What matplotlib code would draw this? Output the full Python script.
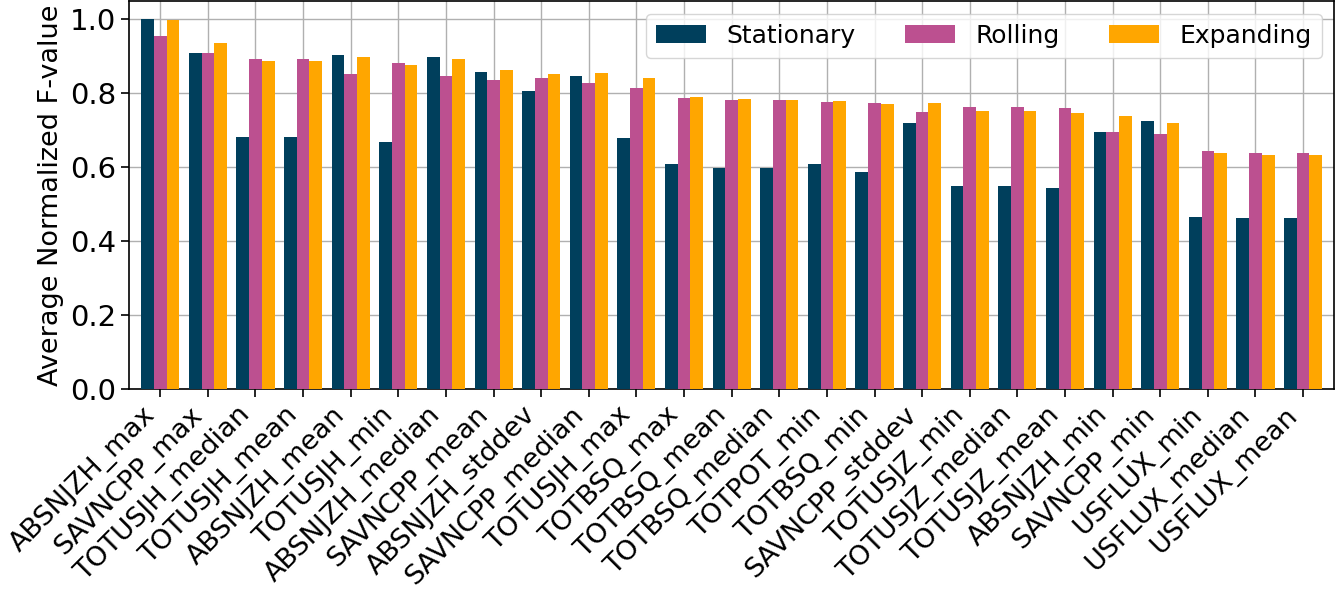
import numpy as np
import matplotlib
matplotlib.use("Agg")
import matplotlib.pyplot as plt

features = [
    "ABSNJZH_max", "SAVNCPP_max", "TOTUSJH_median", "TOTUSJH_mean", "ABSNJZH_mean",
    "TOTUSJH_min", "ABSNJZH_median", "SAVNCPP_mean", "ABSNJZH_stddev", "SAVNCPP_median",
    "TOTUSJH_max", "TOTBSQ_max", "TOTBSQ_mean", "TOTBSQ_median", "TOTPOT_min",
    "TOTBSQ_min", "SAVNCPP_stddev", "TOTUSJZ_min", "TOTUSJZ_median", "TOTUSJZ_mean",
    "ABSNJZH_min", "SAVNCPP_min", "USFLUX_min", "USFLUX_median", "USFLUX_mean",
]

stationary = [1.000, 0.910, 0.683, 0.683, 0.904, 0.669, 0.899, 0.859, 0.805, 0.847,
              0.679, 0.608, 0.598, 0.597, 0.608, 0.586, 0.720, 0.550, 0.548, 0.544,
              0.696, 0.726, 0.466, 0.462, 0.461]
rolling = [0.956, 0.909, 0.893, 0.892, 0.853, 0.883, 0.847, 0.836, 0.842, 0.827,
           0.815, 0.786, 0.783, 0.783, 0.777, 0.773, 0.749, 0.764, 0.762, 0.759,
           0.696, 0.690, 0.645, 0.639, 0.639]
expanding = [0.998, 0.937, 0.888, 0.888, 0.898, 0.878, 0.893, 0.864, 0.852, 0.856,
             0.841, 0.789, 0.784, 0.783, 0.780, 0.772, 0.774, 0.752, 0.751, 0.748,
             0.738, 0.719, 0.638, 0.632, 0.632]

series = [("Stationary", stationary, "#003f5c"),
          ("Rolling", rolling, "#bc5090"),
          ("Expanding", expanding, "#ffa600")]

fig = plt.figure(figsize=(13.44, 5.96), dpi=100)
ax = fig.add_axes([0.0962, 0.3478, 0.8964, 0.6505])

x = np.arange(len(features))
width = 0.8 / 3
for i, (name, vals, color) in enumerate(series):
    ax.bar(x + (i - 1) * width, vals, width, label=name, color=color, zorder=3)

ax.set_axisbelow(True)
ax.grid(True, color="#b0b0b0", linewidth=1.0)
ax.set_xlim(-0.65, len(features) - 1 + 0.65)
ax.set_ylim(0, 1.05)
ax.set_yticks(np.arange(0, 1.01, 0.2))
ax.set_xticks(x)
ax.set_xticklabels(features, rotation=45, ha="right")
ax.tick_params(axis="both", length=6, width=1.2)
ax.tick_params(axis="y", labelsize=21)
ax.tick_params(axis="x", labelsize=19.5)
for s in ax.spines.values():
    s.set_linewidth(1.2)
ax.set_ylabel("Average Normalized F-value", fontsize=19.5)
ax.legend(loc="upper right", ncol=3, fontsize=18)

fig.savefig("out.png", dpi=100)
